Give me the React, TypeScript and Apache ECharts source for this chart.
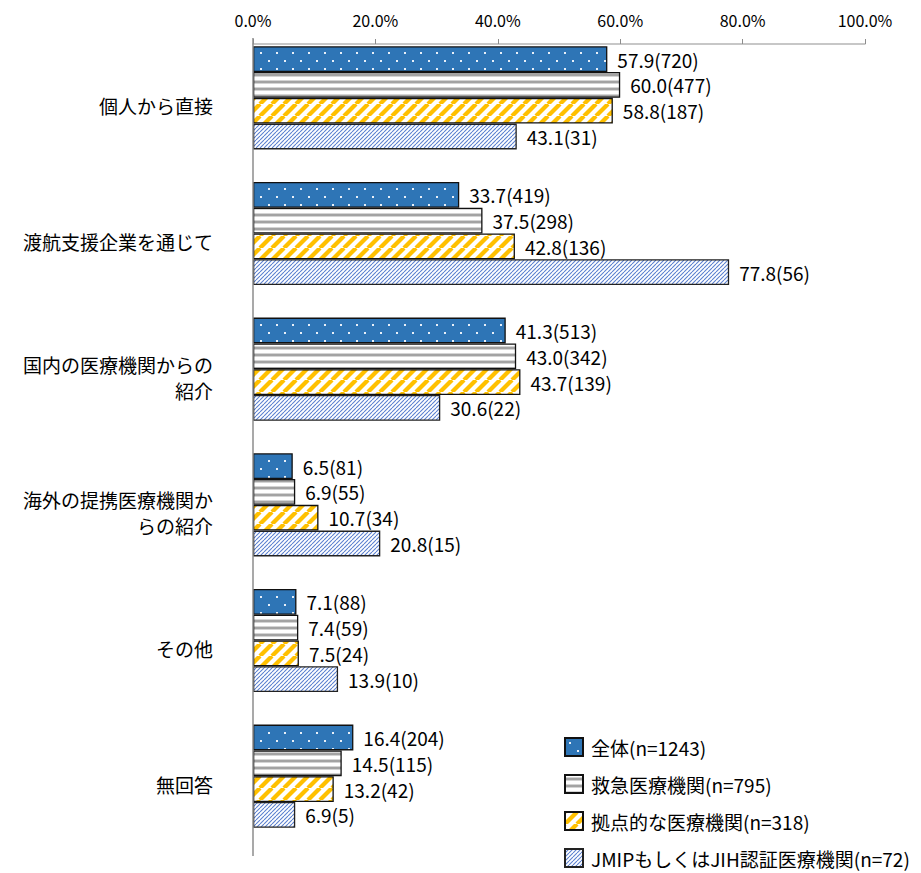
import React, { useEffect, useRef } from "react";
import * as echarts from "echarts";

const categories = [
  "個人から直接",
  "渡航支援企業を通じて",
  "国内の医療機関からの\n紹介",
  "海外の提携医療機関か\nらの紹介",
  "その他",
  "無回答",
];
const seriesNames = [
  "全体(n=1243)",
  "救急医療機関(n=795)",
  "拠点的な医療機関(n=318)",
  "JMIPもしくはJIH認証医療機関(n=72)",
];
const pctAll = [57.9, 33.7, 41.3, 6.5, 7.1, 16.4];
const pctEmergency = [60.0, 37.5, 43.0, 6.9, 7.4, 14.5];
const pctBase = [58.8, 42.8, 43.7, 10.7, 7.5, 13.2];
const pctJmip = [43.1, 77.8, 30.6, 20.8, 13.9, 6.9];
const cntAll = [720, 419, 513, 81, 88, 204];
const cntEmergency = [477, 298, 342, 55, 59, 115];
const cntBase = [187, 136, 139, 34, 24, 42];
const cntJmip = [31, 56, 22, 15, 10, 5];
const xTicks = { min: 0, max: 100, interval: 20 };

const FONT = "'Noto Sans CJK JP', 'Noto Sans', sans-serif";

function makeTile(w: number, h: number, draw: (ctx: CanvasRenderingContext2D) => void) {
  const c = document.createElement("canvas");
  c.width = w;
  c.height = h;
  const ctx = c.getContext("2d")!;
  draw(ctx);
  return { image: c.toDataURL(), repeat: "repeat", imageWidth: w, imageHeight: h } as any;
}

function dotsPattern() {
  return makeTile(16, 16, (ctx) => {
    ctx.fillStyle = "#2E75B6";
    ctx.fillRect(0, 0, 16, 16);
    ctx.fillStyle = "#e8f0f9";
    ctx.fillRect(4, 4, 2, 2);
    ctx.fillRect(12, 12, 2, 2);
  });
}
function hStripePattern() {
  return makeTile(8, 7, (ctx) => {
    const rows = ["#ffffff", "#ffffff", "#d4d4d4", "#a3a3a3", "#a3a3a3", "#d4d4d4", "#ffffff"];
    rows.forEach((c, i) => {
      ctx.fillStyle = c;
      ctx.fillRect(0, i, 8, 1);
    });
  });
}
function diagPattern(size: number, bg: string, fg: string, lw: number) {
  return makeTile(size, size, (ctx) => {
    ctx.fillStyle = bg;
    ctx.fillRect(0, 0, size, size);
    ctx.strokeStyle = fg;
    ctx.lineWidth = lw;
    for (let k = -1; k <= 1; k++) {
      ctx.beginPath();
      ctx.moveTo(k * size, size);
      ctx.lineTo(k * size + size, 0);
      ctx.stroke();
    }
  });
}

export default function App() {
  const ref = useRef<HTMLDivElement>(null);
  useEffect(() => {
    const chart = echarts.init(ref.current!, null, { renderer: "svg" });
    const patterns = [
      dotsPattern(),
      hStripePattern(),
      diagPattern(12, "#ffffff", "#FFC000", 4.2),
      diagPattern(4, "#ffffff", "#5a7fcf", 1.1),
    ];
    const pcts = [pctAll, pctEmergency, pctBase, pctJmip];
    const cnts = [cntAll, cntEmergency, cntBase, cntJmip];
    const borders = ["#111", "#111", "#111", "#222"];
    chart.setOption({
      animation: false,
      grid: { left: 245, right: 56, top: 22, bottom: 29 },
      legend: {
        orient: "vertical",
        left: 556,
        top: 729,
        height: 200,
        width: 360,
        padding: 0,
        itemWidth: 18,
        itemHeight: 18,
        itemGap: 17,
        icon: "rect",
        textStyle: {
          fontFamily: FONT,
          fontSize: 19,
          lineHeight: 18,
          color: "#000",
          padding: [0, 0, 0, 3],
        },
        data: seriesNames,
      },
      xAxis: {
        type: "value",
        position: "top",
        offset: -14,
        min: xTicks.min,
        max: xTicks.max,
        interval: xTicks.interval,
        axisLine: { show: true, lineStyle: { color: "#b5b5b5", width: 1.5 } },
        axisTick: { show: true, length: 5, lineStyle: { color: "#8c8c8c" } },
        splitLine: { show: false },
        axisLabel: {
          margin: 16,
          fontFamily: FONT,
          fontSize: 16,
          lineHeight: 16,
          color: "#000",
          formatter: (v: number) => v.toFixed(1) + "%",
        },
      },
      yAxis: {
        type: "category",
        inverse: true,
        data: categories,
        axisLine: { show: false },
        axisTick: { show: false },
        axisLabel: {
          margin: 40,
          fontFamily: FONT,
          fontSize: 19,
          color: "#000",
          align: "right",
          lineHeight: 26,
          formatter: (v: string) =>
            "{s| }\n" +
            v
              .split("\n")
              .map((l) => "{n|" + l + "}")
              .join("\n"),
          rich: {
            s: { fontSize: 8, lineHeight: 16 },
            n: { fontFamily: FONT, fontSize: 19, color: "#000", lineHeight: 26 },
          },
        },
      },
      graphic: [
        {
          type: "line",
          shape: { x1: 245, y1: 30, x2: 245, y2: 848 },
          style: { stroke: "#8c8c8c", lineWidth: 1.5 },
          z: 10,
        },
      ],
      series: seriesNames.map((name, i) => ({
        name,
        type: "bar",
        barGap: "0%",
        barCategoryGap: "24%",
        data: pcts[i],
        itemStyle: { color: patterns[i], borderColor: borders[i], borderWidth: 1.3 },
        label: {
          show: true,
          position: "right",
          distance: 10,
          fontFamily: FONT,
          fontSize: 19,
          color: "#000",
          formatter: (p: any) => p.value.toFixed(1) + "(" + cnts[i][p.dataIndex] + ")",
        },
      })),
    });
    return () => chart.dispose();
  }, []);
  return <div ref={ref} style={{ width: 913, height: 865 }} />;
}
